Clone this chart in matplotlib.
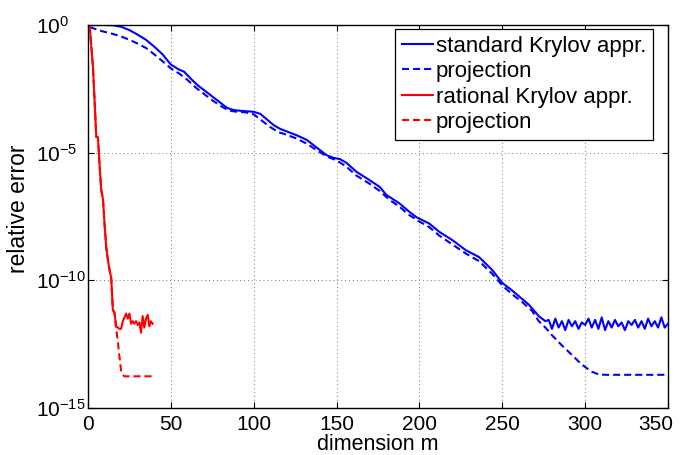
import matplotlib
matplotlib.use("Agg")
import matplotlib.pyplot as plt
import matplotlib.transforms as mtransforms
import numpy as np

plt.rcParams['font.family'] = ['Liberation Sans', 'DejaVu Sans']
plt.rcParams['mathtext.fontset'] = 'custom'
plt.rcParams['mathtext.rm'] = 'Liberation Sans'
plt.rcParams['mathtext.it'] = 'Liberation Sans'
plt.rcParams['mathtext.default'] = 'regular'

# standard Krylov approximation (log10 of relative error)
std_m = [1, 10, 15, 20, 25, 30, 35, 40, 45, 50, 55, 58, 62, 66, 70, 75, 80, 84,
         88, 92, 96, 100, 104, 108, 112, 116, 120, 126, 132, 138, 144, 148, 152, 156,
         162, 170, 176, 180, 188, 194, 198, 206, 212, 220, 228, 236, 244, 250, 256,
         260, 266, 272, 276,
         278, 280, 282, 284, 286, 288, 290, 292, 294, 296, 298, 300, 302, 304, 306,
         308, 310, 312, 314, 316, 318, 320, 322, 324, 326, 328, 330, 332, 334, 336,
         338, 340, 342, 344, 346, 348, 350]
std_err = [0.0, 0.0, -0.01, -0.07, -0.2, -0.38, -0.58, -0.85, -1.15, -1.55, -1.75,
           -1.83, -2.1, -2.35, -2.55, -2.8, -3.05, -3.25, -3.33, -3.36, -3.38, -3.4,
           -3.48, -3.7, -3.92, -4.07, -4.17, -4.32, -4.5, -4.8, -5.1, -5.2, -5.25, -5.4,
           -5.75, -6.08, -6.34, -6.65, -6.99, -7.32, -7.52, -7.78, -8.1, -8.43, -8.82,
           -9.09, -9.6, -10.1, -10.4, -10.62, -10.95, -11.4, -11.6,
           -11.55, -11.9, -11.5, -11.85, -11.6, -11.95, -11.55, -11.8, -11.6, -11.9,
           -11.65, -11.75, -11.5, -11.85, -11.55, -11.9, -11.45, -11.95, -11.6, -11.85,
           -11.55, -11.8, -11.65, -11.95, -11.6, -11.75, -11.55, -11.85, -11.6, -11.9,
           -11.5, -11.8, -11.6, -11.85, -11.45, -11.85, -11.7]

# projection for standard Krylov
std_proj_m = [1, 5, 10, 15, 20, 25, 30, 35, 40, 45, 50, 55, 60, 65, 70, 75, 80, 85, 90,
              95, 100, 105, 110, 115, 120, 126, 132, 138, 144, 150, 156, 162, 170, 176,
              182, 188, 194, 200, 206, 212, 220, 228, 236, 244, 250, 256, 262, 268, 272,
              276, 280, 286, 292, 298, 304, 308, 312, 350]
std_proj_err = [-0.08, -0.17, -0.27, -0.35, -0.45, -0.58, -0.73, -0.9, -1.15, -1.42,
                -1.7, -1.9, -2.15, -2.45, -2.7, -2.95, -3.17, -3.35, -3.4, -3.42, -3.5,
                -3.75, -4.0, -4.2, -4.3, -4.45, -4.65, -4.9, -5.15, -5.3, -5.55, -5.9,
                -6.22, -6.5, -6.85, -7.12, -7.45, -7.7, -7.92, -8.25, -8.6, -8.95, -9.25,
                -9.75, -10.2, -10.55, -10.85, -11.2, -11.6, -11.85, -12.15, -12.55,
                -12.92, -13.3, -13.58, -13.68, -13.7, -13.7]

# rational Krylov approximation
rat_m = list(range(1, 40))
rat_err = [0.0, -0.85, -1.65, -3.0, -4.38, -4.4, -5.5, -6.47, -6.8, -7.8, -8.7, -9.2,
           -9.6, -9.9, -11.15, -11.25, -11.8, -11.85, -11.9, -11.9, -11.6, -11.45, -11.3,
           -11.5, -11.3, -11.7, -11.6, -11.7, -11.6, -11.75, -11.65, -12.05, -11.4,
           -11.85, -11.5, -11.35, -11.8, -11.6, -11.7]

# projection for rational Krylov
rat_proj_m = list(range(1, 23)) + [39]
rat_proj_err = [0.0, -0.85, -1.65, -3.0, -4.38, -4.4, -5.5, -6.47, -6.8, -7.8, -8.7,
                -9.2, -9.6, -9.9, -11.15, -11.3, -11.9, -12.4, -13.0, -13.55, -13.7,
                -13.76, -13.76]

x_ticks = [0, 50, 100, 150, 200, 250, 300, 350]
y_ticks = [1e-15, 1e-10, 1e-5, 1e0]
y_tick_labels = ['$10^{-15}$', '$10^{-10}$', '$10^{-5}$', '$10^{0}$']

fig = plt.figure(figsize=(6.8, 4.55), dpi=100)
ax = fig.add_axes([88 / 680, 1 - 408 / 455, 580 / 680, 383 / 455])

dash = (0, (3.4, 1.9))
ax.semilogy(std_m, 10.0 ** np.array(std_err), color='blue', lw=1.5,
            label='standard Krylov appr.')
ax.semilogy(std_proj_m, 10.0 ** np.array(std_proj_err), color='blue', lw=1.5,
            linestyle=dash, label='projection')
ax.semilogy(rat_m, 10.0 ** np.array(rat_err), color='red', lw=1.5,
            label='rational Krylov appr.')
ax.semilogy(rat_proj_m, 10.0 ** np.array(rat_proj_err), color='red', lw=1.5,
            linestyle=dash, label='projection')

ax.set_xlim(0, 350)
ax.set_ylim(1e-15, 1e0)
ax.set_xticks(x_ticks)
ax.set_yticks(y_ticks)
ylabs = ax.set_yticklabels(y_tick_labels)
ax.minorticks_off()
ax.tick_params(direction='in', top=True, right=True, length=4, width=0.8)
ax.tick_params(axis='x', labelsize=15, pad=5)
ax.tick_params(axis='y', labelsize=15, pad=37.4)
for lab in ylabs:
    lab.set_horizontalalignment('left')

# last x label is pulled inside the figure (as in the original)
last = ax.xaxis.get_major_ticks()[-1].label1
last.set_transform(last.get_transform() +
                   mtransforms.ScaledTranslation(-0.12, 0, fig.dpi_scale_trans))

ax.grid(True, color='0.45', linestyle=(0, (1, 3)), linewidth=0.7)
for s in ax.spines.values():
    s.set_linewidth(1.0)

ax.set_xlabel('dimension m', fontsize=15.5, labelpad=0)
ax.set_ylabel('relative error', fontsize=16.5, labelpad=0)
ax.yaxis.set_label_coords(-0.1, 0.52)

leg = ax.legend(loc='upper right', bbox_to_anchor=(565 / 580, 1 - 4 / 383),
                borderaxespad=0, fancybox=False, edgecolor='black', fontsize=16,
                handlelength=1.4, handletextpad=0.15, labelspacing=0.2,
                borderpad=0.3, framealpha=1)
leg.get_frame().set_linewidth(0.9)

fig.savefig('out.png', dpi=100)
